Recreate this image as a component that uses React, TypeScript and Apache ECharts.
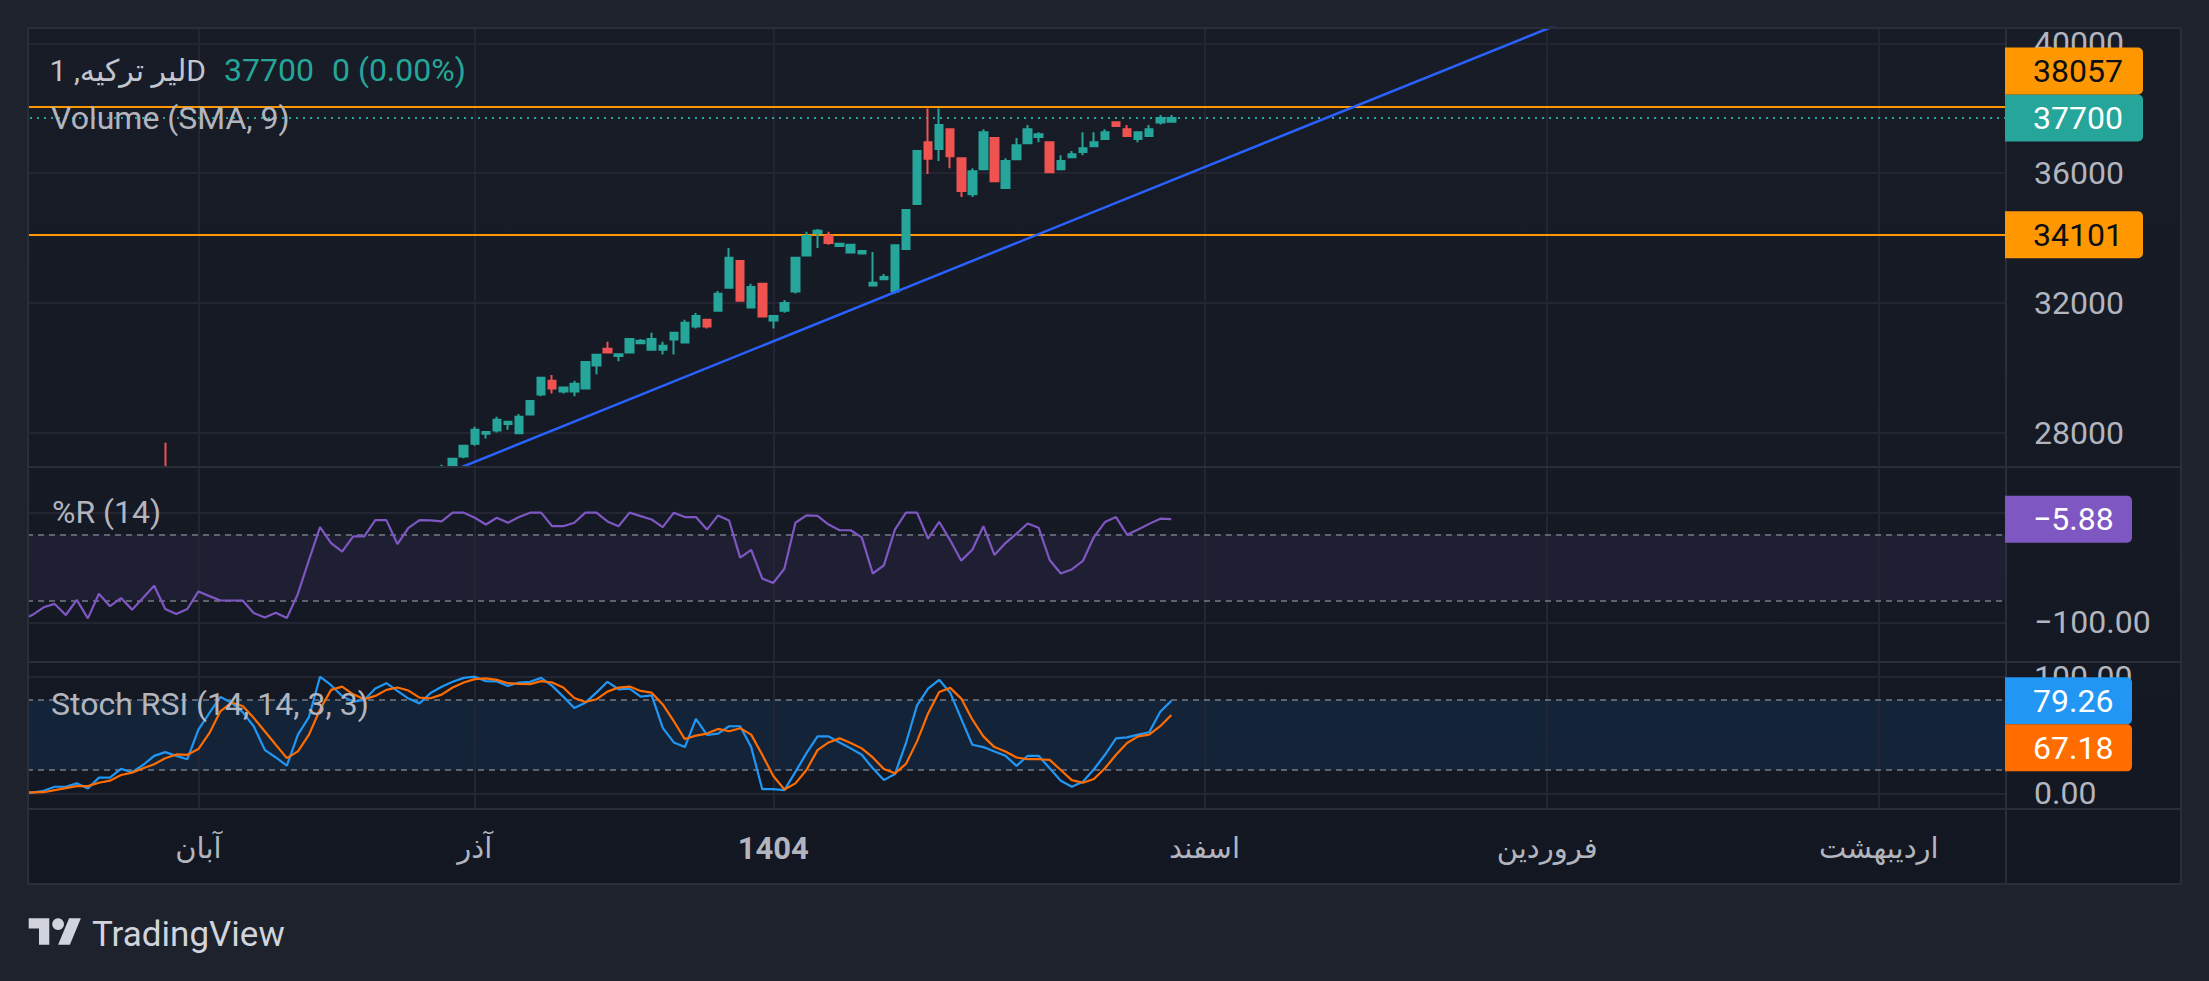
import React, { useEffect, useRef } from "react";
import * as echarts from "echarts";

// ---------- data (index 0 = first, partly hidden, day) ----------
const OPEN = [
  26300, 26200, 26100, 26150, 26180, 26000, 26120, 25900, 26080, 25950,
  26050, 25900, 26050, 26150, 25950, 25850, 25900, 26050, 26000, 25950,
  25950, 25960, 25800, 25700, 25780, 25650, 25950, 26300, 26650, 26500,
  26450, 26600, 26620, 26760, 26780, 26600, 26720, 26800, 26820, 26900,
  27270, 27660, 27970, 28070, 28270, 27980, 28560, 29180, 29600, 29270,
  29270, 29360, 30070, 30590, 30360, 30470, 30760, 30560, 30560, 30870,
  30780, 31270, 31480, 31760, 32470, 33290, 31860, 32590, 31460, 31760,
  32350, 33460, 34150, 34070, 33750, 33550, 33520, 32540, 32730, 32350,
  33660, 35050, 36950, 36740, 37350, 36460, 35350, 36120, 37080, 35540,
  36430, 36920, 37110, 36950, 36120, 36490, 36650, 36830, 37050, 37570,
  37350, 37050, 37140, 37560, 37580,
];
const CLOSE = [
  26200, 26100, 26150, 26180, 26000, 26120, 25900, 26080, 25950, 26050,
  25900, 26050, 26150, 25950, 25850, 25900, 26050, 26000, 25950, 25950,
  25960, 25800, 25700, 25780, 25650, 25950, 26300, 26650, 26500, 26450,
  26600, 26620, 26760, 26780, 26600, 26720, 26800, 26820, 26900, 27200,
  27600, 28090, 28020, 28400, 28340, 28490, 28980, 29690, 29360, 29390,
  29510, 30180, 30400, 30470, 30420, 30890, 30830, 30890, 30680, 31080,
  31390, 31600, 31270, 32280, 33390, 32070, 32490, 31580, 31600, 32000,
  33390, 34060, 34220, 33850, 33820, 33790, 33600, 32620, 32800, 33780,
  34860, 36680, 36440, 37480, 36520, 35450, 36060, 37260, 35750, 36370,
  36860, 37350, 37200, 36030, 36370, 36580, 36770, 36950, 37260, 37450,
  37140, 37260, 37350, 37700, 37700,
];
const LOW = [
  26120, 26050, 26040, 26090, 25960, 25950, 25860, 25880, 25910, 25920,
  25870, 25880, 26000, 25900, 25800, 25810, 25880, 25960, 25910, 25900,
  25900, 25760, 25650, 25660, 25600, 25630, 25930, 26280, 26460, 26400,
  26430, 26560, 26600, 26720, 26570, 26580, 26700, 26760, 26780, 26850,
  27210, 27600, 27820, 28010, 28090, 27980, 28560, 29120, 29210, 29210,
  29120, 29360, 29800, 30470, 30200, 30470, 30760, 30560, 30410, 30410,
  30780, 31210, 31210, 31760, 32470, 32070, 31860, 31580, 31210, 31700,
  32290, 33460, 33690, 33790, 33750, 33550, 33520, 32540, 32730, 32280,
  33660, 35050, 35970, 36370, 36150, 35260, 35260, 36120, 35750, 35540,
  36430, 36920, 36950, 36030, 36120, 36460, 36550, 36830, 37050, 37450,
  37140, 36950, 37140, 37500, 37580,
];
const HIGH = [
  26380, 26260, 26210, 26240, 26220, 26170, 26150, 26130, 26110, 26090,
  26080, 26090, 26200, 27690, 25990, 25950, 26090, 26100, 26040, 26000,
  26010, 25990, 25830, 25820, 25800, 25980, 26330, 26680, 26700, 26560,
  26640, 26660, 26780, 26800, 26810, 26750, 26820, 26860, 27010, 27230,
  27600, 28180, 28040, 28490, 28350, 28580, 28980, 29690, 29780, 29390,
  29600, 30180, 30400, 30800, 30430, 30890, 30890, 31080, 30800, 31080,
  31480, 31690, 31480, 32370, 33690, 33290, 32590, 32590, 31600, 32090,
  33390, 34190, 34280, 34190, 33830, 33790, 33610, 33570, 32890, 33780,
  34860, 36680, 37990, 37990, 37350, 36460, 36150, 37350, 37080, 36460,
  37080, 37480, 37260, 36950, 36550, 36680, 37260, 37260, 37350, 37570,
  37480, 37260, 37480, 37790, 37790,
];
const WILLIAMS_R = [
  -98, -93, -86.2, -83.1, -93.2, -79.4, -96.3, -73.8, -85.2, -77.8,
  -88.3, -77.5, -66.5, -87.7, -92.3, -87.7, -71.7, -76, -80, -80,
  -80, -91.4, -95.4, -91.1, -96, -73.8, -43.1, -13.2, -27.7, -35.4,
  -21.5, -21.5, -6.8, -6.8, -28.6, -13.8, -6.8, -7, -8, 0,
  0, -4.6, -10.8, -4.6, -9.2, -4, 0, 0, -12.3, -12.3,
  -9.2, 0, 0, -8, -12.3, 0, -3.1, -6.2, -13.2, 0,
  -4, -4, -15.4, -2.5, -7.1, -40.9, -33.8, -60, -64, -51.1,
  -9.2, -2.5, -3, -10.8, -16, -16, -22.5, -55.4, -48, -15.4,
  0, 0, -23.7, -8.3, -25.2, -43.7, -33.8, -12.3, -38.5, -27.7,
  -19.1, -9.8, -13.8, -43.1, -55.4, -51.7, -44, -22.2, -8.6, -4,
  -20, -15.4, -10.2, -5.5, -5.88,
];
const STOCH_K = [
  0, 0.5, 2.1, 5.6, 5.6, 8.5, 4.1, 13.4, 13.4, 20.9,
  18, 24.3, 32.1, 35.3, 32.1, 29.2, 54.6, 69, 82.6, 77.7,
  69.6, 57.5, 37.3, 30.7, 23.7, 50.3, 65.3, 100, 92.7, 83.5,
  78.6, 80, 89.8, 94.4, 87.8, 81.2, 77.1, 86, 91.3, 95.6,
  99, 100, 96.2, 95.9, 92.1, 95, 95.6, 99, 92.1, 82.9,
  73.1, 77.7, 86.3, 95.6, 89.2, 89.8, 82.9, 84, 56.1, 43.6,
  39.6, 63.8, 50, 51.2, 57.5, 57.5, 39.6, 3.5, 3.5, 2.7,
  18.3, 34.4, 48.8, 48.8, 43.6, 38.5, 33, 21.4, 11.3, 16.5,
  43.1, 75.4, 89.8, 97.3, 86.3, 63.8, 41.6, 39.6, 35.9, 32.1,
  23.5, 32.1, 32.1, 21.4, 10.8, 5.6, 9.9, 20.6, 33, 47.1,
  48, 50.3, 52.3, 69.9, 79.26,
];
const STOCH_D = [
  1, 0.8, 0.9, 2.7, 4.4, 6.1, 6.1, 9, 10.8, 15.7,
  17.7, 21.4, 24.9, 30.1, 33.3, 33, 37.9, 51.7, 70.5, 77.7,
  74.8, 64.7, 53.2, 41.6, 30.1, 35.9, 50.3, 71.9, 88.7, 91.5,
  84.9, 80.6, 83.5, 88.7, 90.7, 88.1, 82, 81.5, 84.6, 90.7,
  95, 97.9, 98.5, 97.3, 94.4, 93.8, 93.6, 96.2, 95, 90.7,
  81.7, 78.3, 80.6, 87.2, 90.7, 91.5, 87.8, 86.3, 76.2, 61.8,
  46.5, 49.4, 51.2, 55.2, 53.2, 55.8, 50.3, 33, 14.8, 3.3,
  8.5, 20, 37, 43.6, 47.1, 43.1, 38.5, 30.7, 20.9, 17.1,
  25.2, 44.5, 68.5, 86.9, 90.4, 81.2, 63.3, 48.8, 39.6, 35.9,
  30.7, 29.2, 29.2, 28.6, 20, 11.3, 9, 12.2, 21.4, 33,
  43.1, 48.8, 50.3, 57.5, 67.18,
];

const SLOT_COUNT = 180;
const SLOTS = Array.from({ length: SLOT_COUNT }, (_, i) => String(i));
const MONTH_LABELS = ["آبان", "آذر", "1404", "اسفند", "فروردین", "اردیبهشت"];
const MONTH_SLOTS = [16, 41, 68, 107, 138, 168];
const PRICE_TICKS = [28000, 32000, 36000, 40000];
const WR_TICKS = [0, -100];
const WR_LABEL_TICKS = [-100];
const STOCH_TICKS = [100, 0];
const PRICE_LEVELS = [38057, 34101];
const TREND_POINTS = [[31, 25727], [146, 41550]];
const WR_BAND = [-80, -20];
const STOCH_BAND = [20, 80];
const PRICE_RANGE = [26943, 40472];
const WR_RANGE = [-136, 41.6];
const STOCH_RANGE = [-13.5, 112.6];
const SYMBOL_TITLE = "لیر ترکیه, 1D";
const CHANGE_TEXT = "0 (0.00%)";

// ---------- style ----------
const W = 2209;
const H = 981;
const FRAME_L = 28, FRAME_T = 28, FRAME_R = 2181, FRAME_B = 884;
const PLOT_R = 2006;
const GRID_L = 16;
const PANELS = [[28, 467], [467, 662], [662, 809]];
const FONT = 'Roboto, "DejaVu Sans", sans-serif';
const UP = "#26a69a";
const DOWN = "#ef5350";
const GRID_C = "#232632";
const BORDER_C = "#2a2e39";
const TXT = "#b2b5be";
const DASH_C = "#787b86";
const PAGE_BG = "#1e222d";

const fmt = (v: number) => {
  const s = Math.abs(v).toFixed(2);
  return v < 0 ? "\u2212" + s : s;
};

export default function App() {
  const ref = useRef<HTMLDivElement>(null);

  useEffect(() => {
    document.body.style.margin = "0";
    const chart = echarts.init(ref.current!, undefined, { renderer: "svg", width: W, height: H });
    const last = CLOSE.length - 1;

    const vLines = MONTH_SLOTS.map((s) => ({ xAxis: s, lineStyle: { color: GRID_C, width: 2, type: "solid" } }));
    const hGrid = (ticks: number[]) => ticks.map((t) => ({ yAxis: t, lineStyle: { color: GRID_C, width: 2, type: "solid" } }));
    const dashed = (vals: number[]) => vals.map((t) => ({ yAxis: t, lineStyle: { color: DASH_C, width: 1.5, type: [6, 5] } }));

    const guide = (gi: number, z: number, lines: any[], area?: { band: number[]; color: string }) => ({
      type: "line",
      xAxisIndex: gi,
      yAxisIndex: gi,
      data: [],
      z,
      silent: true,
      markLine: {
        z: z + 0.2,
        silent: true,
        animation: false,
        symbol: ["none", "none"],
        label: { show: false },
        emphasis: { disabled: true },
        data: lines,
      },
      markArea: area
        ? {
            z,
            silent: true,
            animation: false,
            itemStyle: { color: area.color },
            emphasis: { disabled: true },
            data: [[{ yAxis: area.band[0] }, { yAxis: area.band[1] }]],
          }
        : undefined,
    });

    const option: any = {
      animation: false,
      backgroundColor: PAGE_BG,
      grid: PANELS.map(([t, b]) => ({
        left: GRID_L,
        top: t,
        width: PLOT_R - GRID_L,
        height: b - t,
        show: false,
        containLabel: false,
        outerBoundsMode: "none",
      })),
      xAxis: PANELS.map((_, i) => ({
        type: "category",
        gridIndex: i,
        data: SLOTS,
        boundaryGap: true,
        axisLine: { show: false },
        axisTick: { show: false },
        splitLine: { show: false },
        z: 8,
        axisLabel:
          i === 2
            ? {
                show: true,
                interval: (idx: number) => MONTH_SLOTS.includes(idx),
                formatter: (_v: string, idx: number) => {
                  const t = MONTH_LABELS[MONTH_SLOTS.indexOf(idx)] ?? "";
                  return /^\d+$/.test(t) ? `{b|${t}}` : `{a|${t}}`;
                },
                margin: 21,
                rich: {
                  a: { fontSize: 29, lineHeight: 36, color: TXT, fontFamily: FONT },
                  b: { fontSize: 31, lineHeight: 36, color: TXT, fontFamily: FONT, fontWeight: "bold" },
                },
              }
            : { show: false },
      })),
      yAxis: [PRICE_RANGE, WR_RANGE, STOCH_RANGE].map((r, i) => ({
        type: "value",
        gridIndex: i,
        min: r[0],
        max: r[1],
        show: false,
      })),
      series: [
        guide(0, 1, [
          ...vLines,
          ...hGrid(PRICE_TICKS),
          { yAxis: CLOSE[last], lineStyle: { color: UP, width: 2, type: [2, 5] } },
          ...PRICE_LEVELS.map((p) => ({ yAxis: p, lineStyle: { color: "#ff9800", width: 2, type: "solid" } })),
        ]),
        {
          type: "candlestick",
          xAxisIndex: 0,
          yAxisIndex: 0,
          data: OPEN.map((o, i) => [o, CLOSE[i], LOW[i], HIGH[i]]),
          barWidth: 8,
          clip: true,
          silent: true,
          z: 2,
          itemStyle: { color: UP, color0: DOWN, borderColor: UP, borderColor0: DOWN, borderWidth: 2 },
        },
        {
          type: "line",
          xAxisIndex: 0,
          yAxisIndex: 0,
          data: TREND_POINTS,
          symbol: "none",
          silent: true,
          clip: true,
          z: 3,
          lineStyle: { color: "#2962ff", width: 2.5 },
        },
        guide(1, 5, [...vLines, ...hGrid(WR_TICKS), ...dashed(WR_BAND)], { band: WR_BAND, color: "rgba(126,87,194,0.1)" }),
        {
          type: "line",
          xAxisIndex: 1,
          yAxisIndex: 1,
          data: WILLIAMS_R,
          symbol: "none",
          silent: true,
          z: 6,
          lineStyle: { color: "#7e57c2", width: 2.2 },
        },
        guide(2, 5, [...vLines, ...hGrid(STOCH_TICKS), ...dashed(STOCH_BAND)], { band: STOCH_BAND, color: "rgba(33,150,243,0.1)" }),
        {
          type: "line",
          xAxisIndex: 2,
          yAxisIndex: 2,
          data: STOCH_K,
          symbol: "none",
          silent: true,
          z: 6,
          lineStyle: { color: "#2196f3", width: 2.2 },
        },
        {
          type: "line",
          xAxisIndex: 2,
          yAxisIndex: 2,
          data: STOCH_D,
          symbol: "none",
          silent: true,
          z: 7,
          lineStyle: { color: "#ff6d00", width: 2.2 },
        },
      ],
    };

    chart.setOption(option);

    const py = (axis: number, v: number) => chart.convertToPixel({ yAxisIndex: axis } as any, v) as number;

    const BOX_H = 47;
    const BOX_X = 2005;
    const TEXT_X = 2033;
    const g: any[] = [];

    const frameGradient = () =>
      new echarts.graphic.LinearGradient(
        0, FRAME_T, 0, FRAME_B,
        [
          { offset: 0, color: "#181c27" },
          { offset: 1, color: "#131722" },
        ],
        true
      );

    // frame background
    g.push({
      type: "rect",
      z: -10,
      silent: true,
      shape: { x: FRAME_L, y: FRAME_T, width: FRAME_R - FRAME_L, height: FRAME_B - FRAME_T },
      style: { fill: frameGradient() },
    });
    // mask that hides price marks spilling below the price pane (indicator panes draw above it)
    g.push({
      type: "rect",
      z: 4,
      silent: true,
      shape: { x: FRAME_L, y: PANELS[0][1], width: PLOT_R - FRAME_L, height: PANELS[2][1] - PANELS[0][1] },
      style: { fill: frameGradient() },
    });
    // cover strip left of the frame
    g.push({ type: "rect", z: 50, silent: true, shape: { x: 0, y: 0, width: FRAME_L, height: H }, style: { fill: PAGE_BG } });
    // frame lines
    const hl = (y: number) => ({ type: "line", z: 51, silent: true, shape: { x1: FRAME_L, y1: y, x2: FRAME_R, y2: y }, style: { stroke: BORDER_C, lineWidth: 2 } });
    const vl = (x: number) => ({ type: "line", z: 51, silent: true, shape: { x1: x, y1: FRAME_T, x2: x, y2: FRAME_B }, style: { stroke: BORDER_C, lineWidth: 2 } });
    [FRAME_T, PANELS[0][1], PANELS[1][1], PANELS[2][1], FRAME_B].forEach((y) => g.push(hl(y)));
    [FRAME_L, PLOT_R, FRAME_R].forEach((x) => g.push(vl(x)));

    const txt = (text: string, x: number, y: number, fill: string, size = 32, extra: any = {}) => ({
      type: "text",
      z: 60,
      silent: true,
      x,
      y,
      style: { text, fill, fontSize: size, fontFamily: FONT, align: "left", verticalAlign: "middle", ...extra },
    });

    // price-scale labels
    PRICE_TICKS.forEach((t) => g.push(txt(String(t), 2034, py(0, t), TXT)));
    WR_LABEL_TICKS.forEach((t) => g.push(txt(fmt(t), 2034, py(1, t), TXT)));
    STOCH_TICKS.forEach((t) => g.push(txt(fmt(t), 2034, py(2, t), TXT)));

    const box = (top: number, w: number, fill: string, text: string, color: string) => {
      g.push({ type: "rect", z: 70, silent: true, shape: { x: BOX_X, y: top, width: w, height: BOX_H, r: [0, 5, 5, 0] }, style: { fill } });
      g.push({ ...txt(text, TEXT_X, top + BOX_H / 2, color), z: 71 });
    };

    const lastTop = py(0, CLOSE[last]) - BOX_H / 2;
    box(lastTop, 138, UP, String(CLOSE[last]), "#ffffff");
    box(lastTop - BOX_H, 138, "#ff9800", String(PRICE_LEVELS[0]), "#0c0e15");
    box(py(0, PRICE_LEVELS[1]) - BOX_H / 2, 138, "#ff9800", String(PRICE_LEVELS[1]), "#0c0e15");
    box(py(1, WILLIAMS_R[last]) - BOX_H / 2, 127, "#7e57c2", fmt(WILLIAMS_R[last]), "#ffffff");
    const kTop = py(2, STOCH_K[last]) - BOX_H / 2;
    box(kTop, 127, "#2196f3", fmt(STOCH_K[last]), "#ffffff");
    box(kTop + BOX_H, 127, "#ff6d00", fmt(STOCH_D[last]), "#ffffff");

    // legends
    g.push(txt(SYMBOL_TITLE, 206, 70, "#c3c6ce", 30, { align: "right" }));
    g.push(txt(String(CLOSE[last]), 224, 70, UP));
    g.push(txt(CHANGE_TEXT, 332, 70, UP));
    g.push(txt("Volume (SMA, 9)", 51, 118, TXT));
    g.push(txt("%R (14)", 52, 512, TXT));
    g.push(txt("Stoch RSI (14, 14, 3, 3)", 51, 704, TXT));

    // TradingView logo
    const s = 1.47, ox = 28.7, oy = 912.4;
    const P = (pts: number[][]) => pts.map(([x, y]) => [ox + x * s, oy + y * s]);
    g.push({ type: "polygon", z: 60, silent: true, shape: { points: P([[0, 4], [14, 4], [14, 22], [7, 22], [7, 11], [0, 11]]) }, style: { fill: "#d1d4dc" } });
    g.push({ type: "polygon", z: 60, silent: true, shape: { points: P([[20, 22], [27.5, 4], [35.5, 4], [28, 22]]) }, style: { fill: "#d1d4dc" } });
    g.push({ type: "circle", z: 60, silent: true, shape: { cx: ox + 20 * s, cy: oy + 8 * s, r: 4 * s }, style: { fill: "#d1d4dc" } });
    g.push(txt("TradingView", 92, 934, "#d1d4dc", 35));

    chart.setOption({ graphic: g });

    return () => chart.dispose();
  }, []);

  return <div ref={ref} style={{ position: "absolute", left: 0, top: 0, width: W, height: H }} />;
}
